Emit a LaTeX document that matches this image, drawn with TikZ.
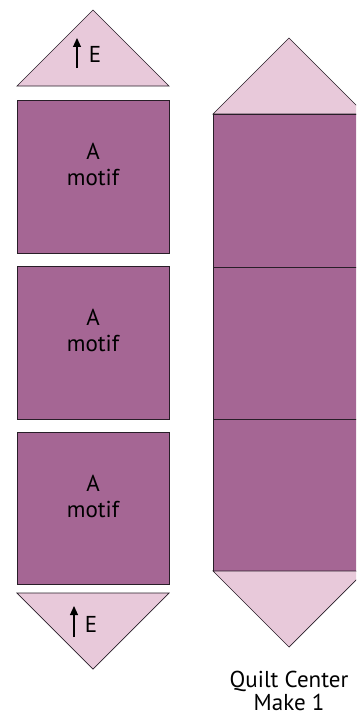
\documentclass[tikz,border=0pt]{standalone}
\usepackage{fontspec}
\setmainfont{PT Sans}
\usetikzlibrary{arrows.meta}
\definecolor{darkp}{RGB}{165,102,148}
\definecolor{lightp}{RGB}{232,201,218}
\definecolor{edge}{RGB}{40,30,40}
\tikzset{
  darkpiece/.style={fill=darkp, draw=edge, line width=0.9pt, line join=miter},
  lightpiece/.style={fill=lightp, draw=edge, line width=0.7pt, line join=miter},
  lbl/.style={font=\fontsize{23}{27}\selectfont, inner sep=0pt, anchor=base, text=black},
  grain/.style={line width=1.1pt, -{Triangle[length=9pt,width=8pt]}}
}
\begin{document}
\begin{tikzpicture}[x=1pt,y=-1pt]
\useasboundingbox (0,0) rectangle (356,717);
\clip (0,0) rectangle (356,717);
% left column
\draw[lightpiece] (17,86) -- (169,86) -- (93,10) -- cycle;
\draw[darkpiece] (17,100) rectangle (169,253);
\draw[darkpiece] (17,266) rectangle (169,419);
\draw[darkpiece] (17,432) rectangle (169,584);
\draw[lightpiece] (17,593) -- (169,593) -- (93,669) -- cycle;
% labels in squares
\node[lbl] (a1) at (93,159) {A};
\node[lbl] (m1) at (93,185) {motif};
\node[lbl] (a2) at (93,325) {A};
\node[lbl] (m2) at (93,351) {motif};
\node[lbl] (a3) at (93,491) {A};
\node[lbl] (m3) at (93,517) {motif};
% grain arrows
\coordinate (t1) at (77,68);
\coordinate (h1) at (77,38);
\draw[grain] (t1) -- (h1);
\node[lbl] (e1) at (95,63) {E};
\coordinate (t2) at (74,637);
\coordinate (h2) at (74,606);
\draw[grain] (t2) -- (h2);
\node[lbl] (e2) at (91,632) {E};
% right column
\draw[lightpiece] (213,114) -- (365,114) -- (289,38) -- cycle;
\draw[darkpiece] (213,114) rectangle (365,571);
\draw[edge, line width=0.9pt] (213,267) -- (365,267);
\draw[edge, line width=0.9pt] (213,419) -- (365,419);
\draw[lightpiece] (213,571) -- (365,571) -- (289,647) -- cycle;
\node[lbl] (q) at (289,687) {Quilt Center};
\node[lbl] (mk) at (289,710) {Make 1};
\end{tikzpicture}
\end{document}
